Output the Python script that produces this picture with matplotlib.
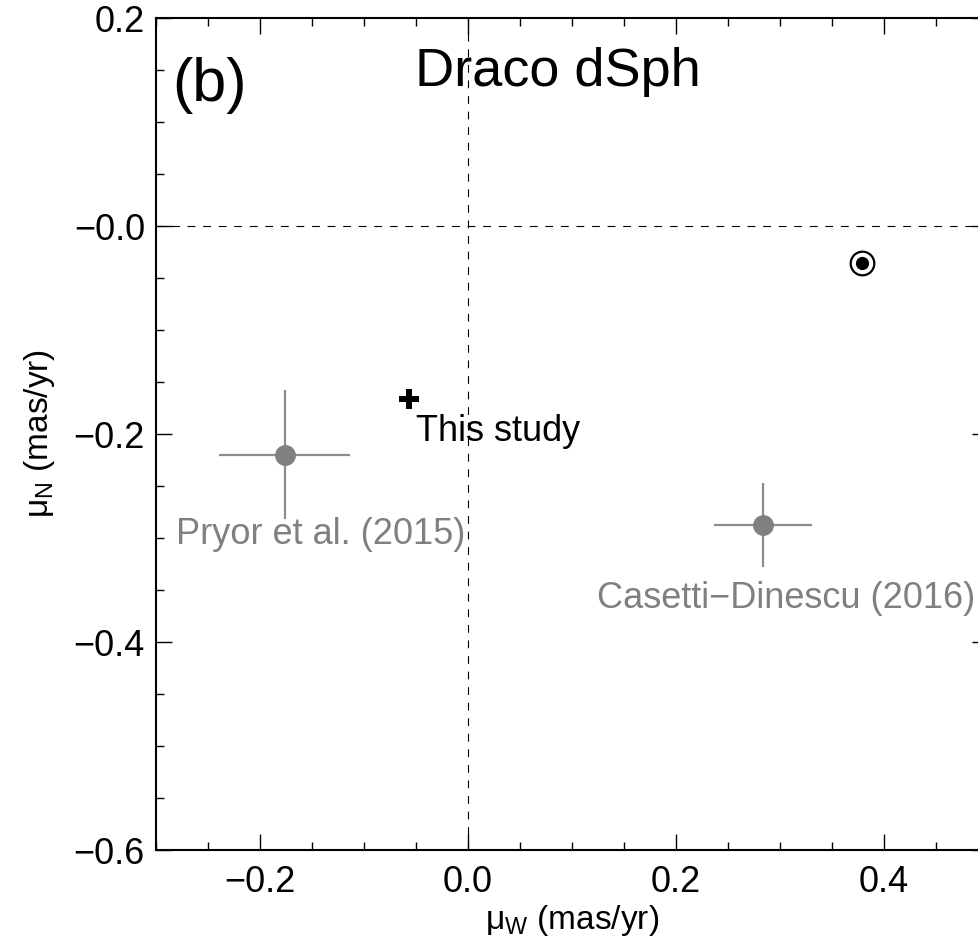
import numpy as np
import matplotlib
matplotlib.use("Agg")
import matplotlib.pyplot as plt
from matplotlib.ticker import MultipleLocator

plt.rcParams['font.family'] = ['Liberation Sans', 'DejaVu Sans']
plt.rcParams['mathtext.fontset'] = 'custom'
plt.rcParams['mathtext.rm'] = 'Liberation Sans'
plt.rcParams['mathtext.it'] = 'Liberation Sans:italic'

# proper motion measurements (mas/yr)
names = ['This study', 'Pryor et al. (2015)', 'Casetti\u2212Dinescu (2016)']
mu_w = [-0.057, -0.176, 0.284]
mu_n = [-0.166, -0.220, -0.2875]
mu_w_err = [0.0, 0.063, 0.047]
mu_n_err = [0.0, 0.062, 0.0405]

# solar reflex point
sun_w = [0.379]
sun_n = [-0.036]

xticks = [-0.2, 0.0, 0.2, 0.4]
xticklabels = ['\u22120.2', '0.0', '0.2', '0.4']
yticks = [-0.6, -0.4, -0.2, 0.0, 0.2]
yticklabels = ['\u22120.6', '\u22120.4', '\u22120.2', '\u22120.0', '0.2']

fig = plt.figure(figsize=(9.79, 9.39), dpi=100)
ax = fig.add_axes([156/979, 89/939, 832/979, 832/939])

ax.axvline(0, color='black', lw=0.8, dashes=(7, 7), zorder=1)
ax.axhline(0, color='black', lw=0.8, dashes=(7, 7), zorder=1)

gray = '#808080'
# literature values with error bars
ax.errorbar(mu_w[1:], mu_n[1:], xerr=mu_w_err[1:], yerr=mu_n_err[1:],
            fmt='o', color=gray, ecolor='#8c8c8c', ms=14, elinewidth=1.6, capsize=0, zorder=3)
# this study
ax.plot(mu_w[0], mu_n[0], marker='P', color='black', ms=14, mew=0, ls='none', zorder=4)

# sun symbol
ax.plot(sun_w, sun_n, marker='o', ms=17, mfc='white', mec='black', mew=1.6, ls='none', zorder=4)
ax.plot(sun_w, sun_n, marker='o', ms=8.5, color='black', ls='none', zorder=5)

# labels next to points
offsets = [(7, -15), (-109, -62), (-166, -56)]
colors = ['black', gray, gray]
for i in range(len(names)):
    ax.annotate(names[i], (mu_w[i], mu_n[i]), xytext=offsets[i], textcoords='offset pixels',
                ha='left', va='top', fontsize=26, color=colors[i], zorder=6)

ax.text(0.02, 0.9, '(b)', transform=ax.transAxes, fontsize=44, ha='left', va='baseline')
ax.text(0.311, 0.918, 'Draco dSph', transform=ax.transAxes, fontsize=39, ha='left', va='baseline')

ax.set_xlim(-0.3, 0.5)
ax.set_ylim(-0.6, 0.2)
ax.set_xticks(xticks)
ax.set_xticklabels(xticklabels)
ax.set_yticks(yticks)
ax.set_yticklabels(yticklabels)
ax.xaxis.set_minor_locator(MultipleLocator(0.05))
ax.yaxis.set_minor_locator(MultipleLocator(0.05))
ax.tick_params(which='both', direction='in', top=True, right=True, labelsize=26, width=1.0)
ax.tick_params(which='major', length=11.5)
ax.tick_params(axis='x', which='major', pad=11)
ax.tick_params(axis='y', which='major', pad=8)
ax.tick_params(which='minor', length=5.8)
for s in ax.spines.values():
    s.set_linewidth(1.5)

ax.set_xlabel('\u03bc$_\\mathrm{W}$ (mas/yr)', fontsize=24, labelpad=2)
ax.set_ylabel('\u03bc$_\\mathrm{N}$ (mas/yr)', fontsize=24, labelpad=12)

fig.savefig('out.png', dpi=100)
